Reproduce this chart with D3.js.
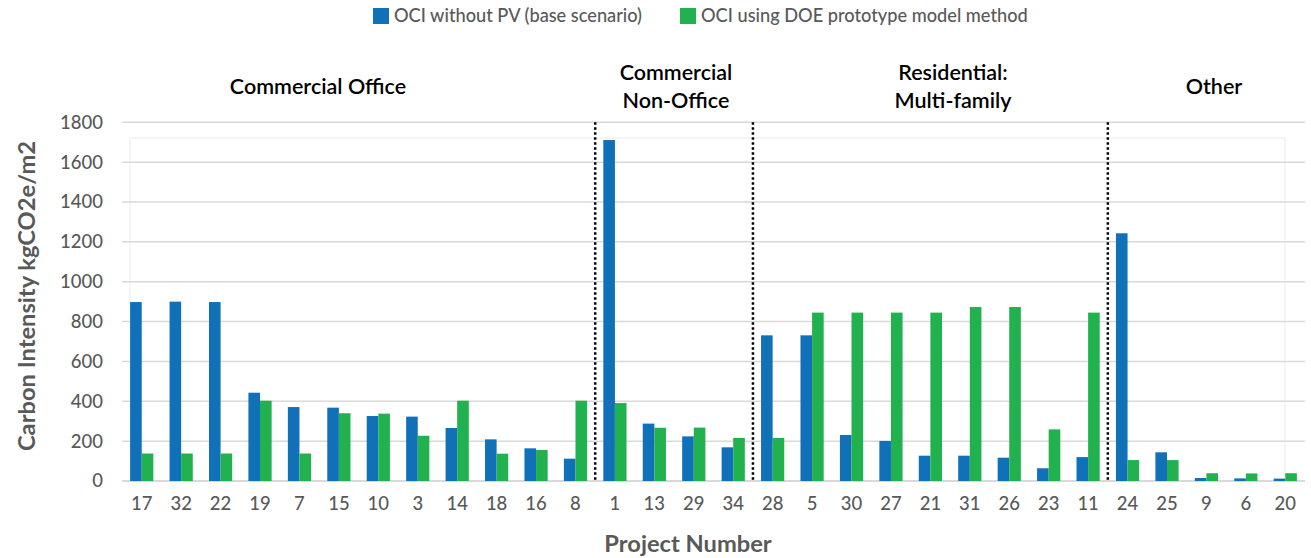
<!DOCTYPE html>
<html><head><meta charset="utf-8">
<script src="https://cdn.jsdelivr.net/npm/d3@7"></script>
<style>body{margin:0;background:#fff}svg{display:block}</style>
</head><body>
<svg id="c" width="1311" height="558"></svg>
<script>
const projects = ["17","32","22","19","7","15","10","3","14","18","16","8","1","13","29","34","28","5","30","27","21","31","26","23","11","24","25","9","6","20"];
const baseOCI = [898,900,898,443,371,368,326,323,266,209,164,112,1711,288,224,169,731,731,231,201,127,127,117,64,120,1243,144,15,13,12];
const doeOCI  = [138,138,138,403,138,340,338,227,403,137,156,403,391,267,268,216,216,845,845,845,845,873,873,259,845,105,105,39,38,39];
const seriesNames = ["OCI without PV (base scenario)","OCI using DOE prototype model method"];
const groups = [
  {name:["Commercial Office"], start:0, end:12},
  {name:["Commercial","Non-Office"], start:12, end:16},
  {name:["Residential:","Multi-family"], start:16, end:25},
  {name:["Other"], start:25, end:30}
];
const yTicks = [0,200,400,600,800,1000,1200,1400,1600,1800];
const colors = ["#1070b8","#22b14f"];
const FONT = "'Source Sans Pro','Lato','Noto Sans',sans-serif";

const svg = d3.select("#c");
const pLeft=122, pRight=1305, pTop=122.3, pBottom=481;
const x = d3.scaleBand().domain(projects).range([pLeft,pRight]).paddingInner(0).paddingOuter(0);
const y = d3.scaleLinear().domain([0,1800]).range([pBottom,pTop]);
const bw = 11.6;
const groupLabelX = [318, 676, 953, 1214];

// faint inner plot box
svg.append("rect").attr("x",130).attr("y",138).attr("width",1155).attr("height",pBottom-138)
  .attr("fill","none").attr("stroke","#ececec").attr("stroke-width",1);

// gridlines
svg.append("g").selectAll("line").data(yTicks).join("line")
  .attr("x1",pLeft).attr("x2",pRight)
  .attr("y1",d=>y(d)).attr("y2",d=>y(d))
  .attr("stroke","#d9d9d9").attr("stroke-width",d=>d===0?2:1.5);

// y tick labels
const yAxis = d3.axisLeft(y).tickValues(yTicks).tickFormat(d3.format("d")).tickSize(0).tickPadding(0);
const ya = svg.append("g").attr("transform",`translate(103,0)`).call(yAxis);
ya.select(".domain").remove();
ya.selectAll("text").attr("font-family",FONT).attr("font-size",18.5).attr("fill","#595959").attr("font-weight",500);

// x tick labels
const xAxis = d3.axisBottom(x).tickSize(0).tickPadding(0);
const xa = svg.append("g").attr("transform",`translate(0,497)`).call(xAxis);
xa.select(".domain").remove();
xa.selectAll("text").attr("font-family",FONT).attr("font-size",18.5).attr("fill","#595959").attr("font-weight",500);

// bars
const off = (x.bandwidth()-2*bw)/2;
svg.append("g").selectAll("rect").data(projects).join("rect")
  .attr("x",d=>x(d)+off).attr("width",bw)
  .attr("y",(d,i)=>y(baseOCI[i])).attr("height",(d,i)=>pBottom-y(baseOCI[i]))
  .attr("fill",colors[0]);
svg.append("g").selectAll("rect").data(projects).join("rect")
  .attr("x",d=>x(d)+off+bw).attr("width",bw)
  .attr("y",(d,i)=>y(doeOCI[i])).attr("height",(d,i)=>pBottom-y(doeOCI[i]))
  .attr("fill",colors[1]);

// dividers
const divs = groups.slice(1).map(g=>x(projects[g.start]));
svg.append("g").selectAll("line").data(divs).join("line")
  .attr("x1",d=>d).attr("x2",d=>d).attr("y1",pTop).attr("y2",pBottom+1)
  .attr("stroke","#000").attr("stroke-width",2.5).attr("stroke-dasharray","2.5,2.5");

// group labels
const gl = svg.append("g");
groups.forEach((g,i)=>{
  const cx = groupLabelX[i];
  const t = gl.append("text").attr("text-anchor","middle").attr("font-family",FONT)
    .attr("font-size",21.5).attr("font-weight",600).attr("fill","#000");
  const y0 = g.name.length===1 ? 94 : 80;
  g.name.forEach((s,k)=>t.append("tspan").attr("x",cx).attr("y",y0+k*28).text(s));
});

// axis titles
svg.append("text").attr("transform","translate(35,296) rotate(-90)").attr("text-anchor","middle")
  .attr("font-family",FONT).attr("font-size",23.7).attr("font-weight",700).attr("fill","#595959")
  .text("Carbon Intensity kgCO2e/m2");
svg.append("text").attr("x",688).attr("y",552).attr("text-anchor","middle")
  .attr("font-family",FONT).attr("font-size",23.7).attr("font-weight",700).attr("fill","#595959")
  .text("Project Number");

// legend
const lg = svg.append("g");
const lx = [373,680];
seriesNames.forEach((s,i)=>{
  lg.append("rect").attr("x",lx[i]).attr("y",8).attr("width",16).attr("height",16).attr("fill",colors[i]);
  lg.append("text").attr("x",lx[i]+21).attr("y",22).attr("font-family",FONT).attr("font-size",18.2)
    .attr("fill","#595959").attr("font-weight",500).text(s);
});
</script>
</body></html>
